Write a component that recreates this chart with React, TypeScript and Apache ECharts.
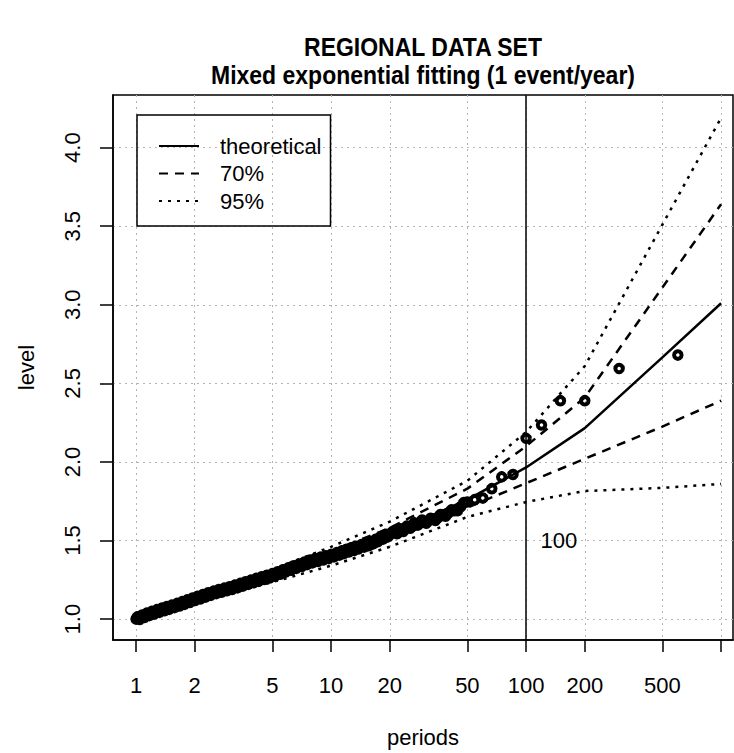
import React, { useEffect, useRef } from "react";
import * as echarts from "echarts";

// ---- data ----
const periodTicks = [1, 2, 5, 10, 20, 50, 100, 200, 500, 1000];
const periodLabels = [1, 2, 5, 10, 20, 50, 100, 200, 500];
const levelTicks = [1.0, 1.5, 2.0, 2.5, 3.0, 3.5, 4.0];

const fitPeriods = [1, 2, 5, 10, 20, 50, 100, 200, 500, 1000];
const theoretical = [1.0, 1.125, 1.275, 1.4, 1.54, 1.76, 1.965, 2.215, 2.665, 3.01];
const upper70 = [1.0, 1.135, 1.295, 1.43, 1.58, 1.83, 2.1, 2.41, 3.11, 3.64];
const lower70 = [1.0, 1.115, 1.255, 1.37, 1.5, 1.71, 1.865, 2.02, 2.225, 2.39];
const upper95 = [1.0, 1.145, 1.315, 1.46, 1.62, 1.88, 2.19, 2.61, 3.51, 4.19];
const lower95 = [1.0, 1.105, 1.235, 1.34, 1.46, 1.65, 1.745, 1.815, 1.835, 1.86];

// observed (plotted) events: band centre
const obsPeriods = [
  1.0, 1.03, 1.06, 1.09, 1.12, 1.15, 1.19, 1.22, 1.26, 1.3, 1.34, 1.38, 1.42, 1.46, 1.5,
  1.55, 1.6, 1.65, 1.7, 1.75, 1.8, 1.86, 1.92, 1.98, 2.04, 2.1, 2.17, 2.24, 2.31, 2.38,
  2.46, 2.54, 2.62, 2.7, 2.79, 2.88, 2.97, 3.06, 3.16, 3.26, 3.37, 3.48, 3.59, 3.7, 3.82,
  3.94, 4.07, 4.2, 4.34, 4.48, 4.62, 4.77, 4.92, 5.08, 5.24, 5.41, 5.58, 5.76, 5.95, 6.14,
  6.34, 6.54, 6.75, 6.97, 7.19, 7.42, 7.66, 7.91, 8.16, 8.42, 8.7, 8.98, 9.27, 9.57, 9.88,
  10.2, 10.5, 10.9, 11.2, 11.5, 11.8, 12.2, 12.5, 12.9, 13.3, 13.6, 14.0, 14.6, 15.0, 15.4,
  15.8, 16.2, 16.7, 17.1, 17.6, 18.2, 18.8, 19.4, 20.0, 21.4, 22.2, 23.1, 24.0, 25.0, 26.1,
  27.3, 28.6, 30.0, 31.6, 33.3, 35.3, 37.5, 40.0, 42.9, 46.2, 50.0, 54.5, 60.0, 66.7, 75.0,
  85.7, 100, 120, 150, 200, 300, 600,
];
const obsLevels = [
  1.0, 1.006, 1.012, 1.018, 1.024, 1.03, 1.036, 1.04, 1.046, 1.051, 1.056, 1.061, 1.066, 1.071, 1.075,
  1.081, 1.086, 1.092, 1.097, 1.102, 1.108, 1.114, 1.12, 1.126, 1.131, 1.136, 1.142, 1.148, 1.153, 1.159,
  1.164, 1.17, 1.175, 1.179, 1.184, 1.188, 1.193, 1.197, 1.202, 1.207, 1.213, 1.218, 1.223, 1.229, 1.234,
  1.239, 1.245, 1.25, 1.255, 1.26, 1.265, 1.27, 1.275, 1.28, 1.287, 1.293, 1.299, 1.306, 1.313, 1.319,
  1.325, 1.331, 1.337, 1.343, 1.349, 1.355, 1.361, 1.367, 1.371, 1.376, 1.38, 1.385, 1.389, 1.394, 1.398,
  1.404, 1.409, 1.415, 1.42, 1.425, 1.43, 1.436, 1.44, 1.445, 1.45, 1.454, 1.459, 1.466, 1.471, 1.475,
  1.48, 1.486, 1.493, 1.499, 1.507, 1.516, 1.524, 1.532, 1.54, 1.55, 1.56, 1.565, 1.575, 1.585, 1.595,
  1.605, 1.615, 1.62, 1.625, 1.635, 1.645, 1.66, 1.675, 1.69, 1.715, 1.745, 1.76, 1.77, 1.83, 1.905,
  1.92, 2.15, 2.235, 2.39, 2.39, 2.595, 2.68,
];

// observed events: upper / lower edges of the thick band
const bandPeriods = [
  1.015, 1.045, 1.075, 1.105, 1.135, 1.17, 1.205, 1.24, 1.28, 1.32, 1.36, 1.4, 1.44, 1.48, 1.525,
  1.575, 1.625, 1.675, 1.725, 1.775, 1.83, 1.89, 1.95, 2.01, 2.07, 2.135, 2.205, 2.275, 2.345, 2.42,
  2.5, 2.58, 2.66, 2.745, 2.835, 2.925, 3.015, 3.11, 3.21, 3.315, 3.425, 3.535, 3.645, 3.76, 3.88,
  4.005, 4.135, 4.27, 4.41, 4.55, 4.695, 4.845, 5.0, 5.16, 5.325, 5.495, 5.67, 5.855, 6.045, 6.24,
  6.44, 6.645, 6.86, 7.08, 7.305, 7.54, 7.785, 8.035, 8.29, 8.56, 8.84, 9.125, 9.42, 9.725, 10.05,
  10.35, 10.7, 11.05, 11.35, 11.65, 12.0, 12.35, 12.7, 13.1, 13.45, 13.8, 14.3, 14.8, 15.2, 15.6,
  16.0, 16.45, 16.9, 17.35, 17.9, 18.5, 19.1, 19.7, 20.7, 21.8, 22.6, 23.5, 24.5, 25.5, 26.7,
  27.9, 29.3, 30.8, 32.4, 34.3, 36.4, 38.7, 41.4, 44.5, 48.0,
];
const bandLevels = [
  1.014, 0.998, 1.026, 1.01, 1.038, 1.022, 1.049, 1.032, 1.06, 1.043, 1.07, 1.053, 1.08, 1.062, 1.089,
  1.073, 1.1, 1.084, 1.111, 1.094, 1.122, 1.106, 1.134, 1.118, 1.145, 1.128, 1.156, 1.14, 1.167, 1.151,
  1.178, 1.162, 1.188, 1.171, 1.197, 1.18, 1.206, 1.189, 1.216, 1.199, 1.227, 1.21, 1.237, 1.221, 1.248,
  1.231, 1.259, 1.242, 1.269, 1.252, 1.279, 1.262, 1.289, 1.273, 1.301, 1.285, 1.314, 1.299, 1.327, 1.311,
  1.339, 1.323, 1.351, 1.335, 1.363, 1.347, 1.375, 1.358, 1.385, 1.367, 1.394, 1.376, 1.403, 1.385, 1.412,
  1.396, 1.423, 1.407, 1.434, 1.417, 1.444, 1.427, 1.454, 1.437, 1.463, 1.446, 1.474, 1.458, 1.484, 1.467,
  1.494, 1.479, 1.507, 1.492, 1.523, 1.509, 1.539, 1.525, 1.557, 1.543, 1.575, 1.558, 1.592, 1.578, 1.612,
  1.598, 1.63, 1.61, 1.642, 1.628, 1.665, 1.655, 1.695, 1.69, 1.742,
];

const refPeriod = 100;
const refLabelLevel = 1.5;

const titleLines = ["REGIONAL DATA SET", "Mixed exponential fitting (1 event/year)"];

const lg = (v: number) => Math.log10(v);
const FONT = "'Liberation Sans', Arial, sans-serif";

export default function App() {
  const ref = useRef<HTMLDivElement>(null);
  useEffect(() => {
    if (!ref.current) return;
    const chart = echarts.init(ref.current, undefined, { renderer: "svg" });
    const pair = (ys: number[]) => fitPeriods.map((p, i) => [lg(p), ys[i]]);
    const gridLine = { show: true, lineStyle: { color: "#b4b4b4", width: 1, type: [2, 4] } };
    const dash70 = [9, 7];
    const dot95 = [3, 6];
    const pointStyle = { color: "rgba(0,0,0,0)", borderColor: "#000", borderWidth: 4, opacity: 1 };
    chart.setOption({
      animation: false,
      backgroundColor: "#fff",
      textStyle: { fontFamily: FONT },
      graphic: [
        {
          type: "text", x: 423, y: 47, scaleY: 1.15,
          style: { text: titleLines[0], font: `bold 23px ${FONT}`, fill: "#000", textAlign: "center", textVerticalAlign: "middle" },
        },
        {
          type: "text", x: 423, y: 75, scaleY: 1.15,
          style: { text: titleLines[1], font: `bold 23px ${FONT}`, fill: "#000", textAlign: "center", textVerticalAlign: "middle" },
        },
      ],
      grid: { left: 113, right: 1, top: 95, bottom: 110, show: true, borderColor: "#000", borderWidth: 1.5 },
      legend: {
        data: ["theoretical", "70%", "95%"],
        orient: "vertical",
        left: 137,
        top: 115,
        itemWidth: 40,
        itemHeight: 14,
        itemGap: 5.5,
        padding: [20, 9, 14, 21],
        borderColor: "#000",
        borderWidth: 1.5,
        selectedMode: false,
        itemStyle: { opacity: 0, borderWidth: 0 },
        textStyle: { fontSize: 22, color: "#000", lineHeight: 22, padding: [0, 0, 0, 16], fontFamily: FONT },
      },
      xAxis: {
        type: "value",
        min: -0.118,
        max: 3.061,
        axisLine: { show: true, onZero: false, lineStyle: { color: "#000", width: 1.5 } },
        axisTick: { show: true, customValues: periodTicks.map(lg), length: 12, lineStyle: { color: "#000", width: 1.5 } },
        axisLabel: {
          customValues: periodLabels.map(lg),
          formatter: (v: number) => String(Math.round(Math.pow(10, v))),
          fontSize: 22, color: "#000", margin: 34, fontFamily: FONT,
        },
        splitLine: gridLine,
        name: "periods",
        nameLocation: "middle",
        nameGap: 86,
        nameTextStyle: { fontSize: 22, color: "#000", fontFamily: FONT },
      },
      yAxis: {
        type: "value",
        min: 0.867,
        max: 4.335,
        axisLine: { show: true, onZero: false, lineStyle: { color: "#000", width: 1.5 } },
        axisTick: { show: true, customValues: levelTicks, length: 13, lineStyle: { color: "#000", width: 1.5 } },
        axisLabel: {
          customValues: levelTicks,
          formatter: (v: number) => v.toFixed(1),
          rotate: 90, fontSize: 22, color: "#000", margin: 30, fontFamily: FONT,
        },
        splitLine: gridLine,
        name: "level",
        nameLocation: "middle",
        nameGap: 76,
        nameRotate: 90,
        nameTextStyle: { fontSize: 22, color: "#000", fontFamily: FONT },
      },
      series: [
        {
          name: "theoretical", type: "line", data: pair(theoretical), symbol: "none", z: 3,
          lineStyle: { color: "#000", width: 2.5, type: "solid" }, itemStyle: { color: "#000" },
        },
        {
          name: "70%", type: "line", data: pair(upper70), symbol: "none", z: 3,
          lineStyle: { color: "#000", width: 2.5, type: dash70 }, itemStyle: { color: "#000" },
        },
        {
          name: "70%", type: "line", data: pair(lower70), symbol: "none", z: 3,
          lineStyle: { color: "#000", width: 2.5, type: dash70 }, itemStyle: { color: "#000" },
        },
        {
          name: "95%", type: "line", data: pair(upper95), symbol: "none", z: 3,
          lineStyle: { color: "#000", width: 2.5, type: dot95 }, itemStyle: { color: "#000" },
        },
        {
          name: "95%", type: "line", data: pair(lower95), symbol: "none", z: 3,
          lineStyle: { color: "#000", width: 2.5, type: dot95 }, itemStyle: { color: "#000" },
        },
        {
          name: "observed band", type: "scatter", z: 4,
          data: bandPeriods.map((p, i) => [lg(p), bandLevels[i]]),
          symbol: "circle", symbolSize: 7.5, itemStyle: pointStyle,
        },
        {
          name: "observed", type: "scatter", z: 4,
          data: obsPeriods.map((p, i) => [lg(p), obsLevels[i]]),
          symbol: "circle", symbolSize: 7.5, itemStyle: pointStyle,
          markLine: {
            silent: true, symbol: ["none", "none"],
            lineStyle: { color: "#000", width: 1.5, type: "solid" },
            label: { show: false },
            data: [{ xAxis: lg(refPeriod) }],
          },
          markPoint: {
            symbol: "circle", symbolSize: 1,
            itemStyle: { color: "rgba(0,0,0,0)" },
            label: { show: true, position: "right", distance: 14, formatter: String(refPeriod), fontSize: 22, color: "#000", fontFamily: FONT },
            data: [{ coord: [lg(refPeriod), refLabelLevel] }],
          },
        },
      ],
    });
    return () => chart.dispose();
  }, []);
  return <div ref={ref} style={{ position: "fixed", left: 0, top: 0, width: 734, height: 753 }} />;
}
